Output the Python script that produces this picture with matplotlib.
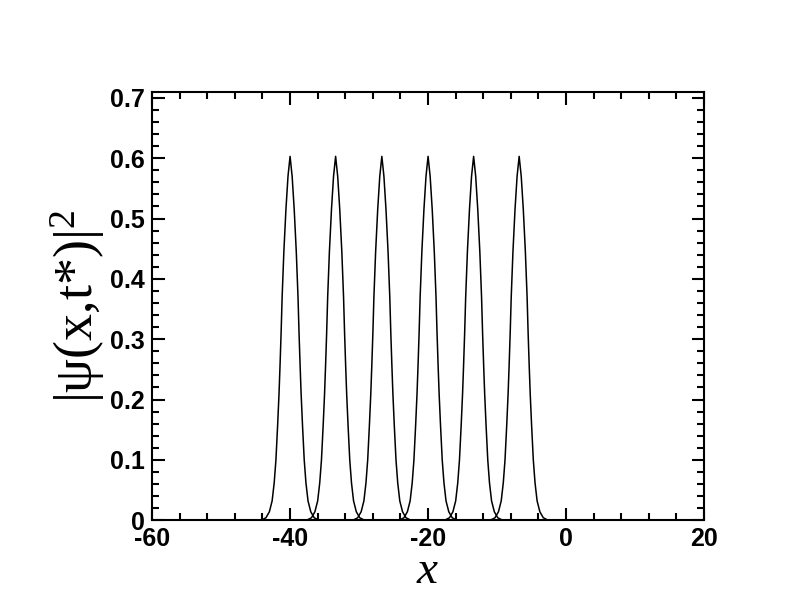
import matplotlib
matplotlib.use("Agg")
import matplotlib.pyplot as plt
from matplotlib.ticker import MultipleLocator

plt.rcParams['axes.unicode_minus'] = False
plt.rcParams['mathtext.fontset'] = 'custom'
plt.rcParams['mathtext.rm'] = 'Liberation Serif'
plt.rcParams['mathtext.it'] = 'Liberation Serif:italic'

# peak centres
centers = [-40.0, -33.4, -26.7, -20.0, -13.4, -6.8]

offsets = [0.0, 0.3, 0.6, 0.9, 1.15, 1.3, 1.45, 1.6, 1.8, 2.05, 2.3, 2.6, 3.0, 3.5, 4.2]
heights = [0.603, 0.570, 0.515, 0.445, 0.370, 0.310, 0.258, 0.210, 0.158,
           0.100, 0.062, 0.032, 0.014, 0.004, 0.0]

xticks = [-60, -40, -20, 0, 20]
yticks = [0, 0.1, 0.2, 0.3, 0.4, 0.5, 0.6, 0.7]
ytick_labels = ["0", "0.1", "0.2", "0.3", "0.4", "0.5", "0.6", "0.7"]

fig = plt.figure(figsize=(7.92, 6.12), dpi=100)
ax = fig.add_axes([0.192, 0.150, 0.697, 0.700])

# full symmetric profile
prof_x = [-o for o in offsets[::-1]] + offsets[1:]
prof_y = heights[::-1] + heights[1:]

for c in centers:
    ax.plot([-60] + [c + o for o in prof_x] + [20],
            [0] + prof_y + [0], color='black', lw=1.1)

ax.set_xlim(-60, 20)
ax.set_ylim(0, 0.71)
ax.set_xticks(xticks)
ax.set_yticks(yticks)
ax.set_yticklabels(ytick_labels)
ax.xaxis.set_minor_locator(MultipleLocator(4))
ax.yaxis.set_minor_locator(MultipleLocator(0.02))

ax.tick_params(which='both', direction='in', top=True, right=True, width=1.5)
ax.tick_params(which='major', length=9, pad=5)
ax.tick_params(which='minor', length=5)
for lab in ax.get_xticklabels() + ax.get_yticklabels():
    lab.set_fontfamily('Liberation Sans')
    lab.set_fontweight('bold')
    lab.set_fontsize(18)
for s in ax.spines.values():
    s.set_linewidth(1.5)

ax.set_xlabel(r'$\mathit{x}$', fontsize=34, labelpad=-2)
ax.set_ylabel(r'|ψ(x,t*)|$^{\mathrm{2}}$', fontsize=39,
              family='Liberation Serif', labelpad=2)

fig.savefig('out.png', dpi=100)
